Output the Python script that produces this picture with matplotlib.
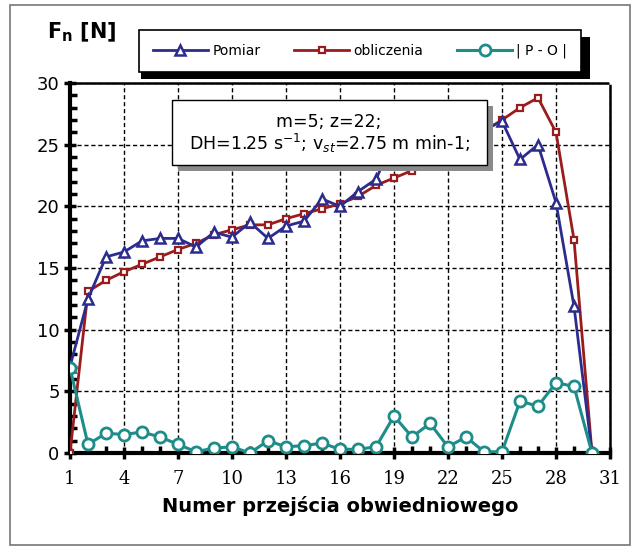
import matplotlib.pyplot as plt
from matplotlib.patches import Rectangle
from matplotlib.ticker import MultipleLocator

# --- data ---
przejscie = list(range(1, 31))
pomiar = [7.0, 12.5, 15.9, 16.3, 17.2, 17.4, 17.4, 16.7, 17.9, 17.5,
          18.7, 17.4, 18.4, 18.8, 20.6, 20.0, 21.2, 22.2, 25.4, 24.3,
          26.0, 24.8, 26.4, 26.2, 26.9, 23.8, 25.0, 20.3, 11.9, 0.0]
obliczenia = [0.0, 13.1, 14.0, 14.7, 15.3, 15.9, 16.5, 17.0, 17.7, 18.1,
              18.5, 18.5, 19.0, 19.4, 19.8, 20.2, 20.8, 21.7, 22.3, 22.9,
              23.6, 24.2, 25.1, 26.1, 27.0, 28.0, 28.8, 26.0, 17.3, 0.0]
roznica = [6.9, 0.7, 1.6, 1.5, 1.7, 1.3, 0.7, 0.1, 0.4, 0.5,
           0.0, 1.0, 0.5, 0.6, 0.8, 0.3, 0.3, 0.5, 3.0, 1.3,
           2.4, 0.5, 1.3, 0.1, 0.1, 4.2, 3.8, 5.7, 5.4, 0.0]
x_ticks = list(range(1, 32, 3))
y_ticks = list(range(0, 31, 5))

BLUE = '#2c2c8e'
RED = '#9a1c1c'
TEAL = '#1e8c88'

fig = plt.figure(figsize=(6.37, 5.49), dpi=100)
ax = fig.add_axes([70/637, 1 - 453/549, 540/637, 370/549])

# outer frame of the picture
fig.patches.append(Rectangle((10/637, 4/549), 620/637, 540/549, transform=fig.transFigure,
                             fill=False, ec='#777777', lw=1.2))

ax.plot(przejscie, pomiar, color=BLUE, lw=2, marker='^', ms=7, mfc='white',
        mec=BLUE, mew=1.8, label='Pomiar', zorder=4)
ax.plot(przejscie, obliczenia, color=RED, lw=2, marker='s', ms=5, mfc='white',
        mec=RED, mew=1.6, label='obliczenia', zorder=3)
ax.plot(przejscie, roznica, color=TEAL, lw=2.2, marker='o', ms=8, mfc='white',
        mec=TEAL, mew=2, label='| P - O |', zorder=5)

ax.set_xlim(1, 31)
ax.set_ylim(0, 30)
ax.set_xticks(x_ticks)
ax.set_yticks(y_ticks)
ax.xaxis.set_minor_locator(MultipleLocator(1))
ax.yaxis.set_minor_locator(MultipleLocator(1))
ax.grid(True, which='major', color='black', ls=(0, (3, 2)), lw=1)
ax.tick_params(which='major', direction='inout', length=8, width=2.5, labelsize=13)
ax.tick_params(which='minor', direction='in', length=5, width=2.5)
ax.tick_params(axis='x', pad=8)
for t in ax.get_xticklabels():
    t.set_family('DejaVu Serif')
for s in ['left', 'bottom']:
    ax.spines[s].set_linewidth(3)
for s in ['top', 'right']:
    ax.spines[s].set_linewidth(1.8)
    ax.spines[s].set_linestyle((0, (3, 1)))

ax.set_xlabel('Numer przejścia obwiedniowego', fontsize=14, fontweight='bold', labelpad=6)
fig.text(47/637, 1 - 32/549, r'F$_\mathbf{n}$ [N]', fontsize=15, fontweight='bold',
         va='center', ha='left')

# legend box with shadow
leg = fig.legend(loc='center', bbox_to_anchor=(360/637, 1 - 51/549), ncol=3,
                 frameon=True, fancybox=False, shadow=False, fontsize=10,
                 handlelength=4, columnspacing=2.4, borderpad=1.0, handletextpad=0.3,
                 facecolor='white', framealpha=1)
leg.get_frame().set_edgecolor('black')
leg.get_frame().set_linewidth(1.2)
fig.patches.append(Rectangle((141/637, 1 - 79/549), 449/637, 42/549, transform=fig.transFigure,
                             fc='black', ec='none', zorder=0))

# parameter box with shadow
ax.add_patch(Rectangle((178/637, 1 - 171/549), 315/637, 65/549, transform=fig.transFigure,
                       fc='#8a8a8a', ec='none', zorder=6))
ax.add_patch(Rectangle((172/637, 1 - 165/549), 315/637, 65/549, transform=fig.transFigure,
                       fc='white', ec='black', lw=1, zorder=7))
fig.text(329/637, 1 - 122/549, 'm=5; z=22;', fontsize=12.5, ha='center', va='center', zorder=8)
fig.text(329/637, 1 - 143/549, r'DH=1.25 s$^{-1}$; v$_{st}$=2.75 m min-1;', fontsize=12.5,
         ha='center', va='center', zorder=8)

fig.savefig('out.png', dpi=100)
